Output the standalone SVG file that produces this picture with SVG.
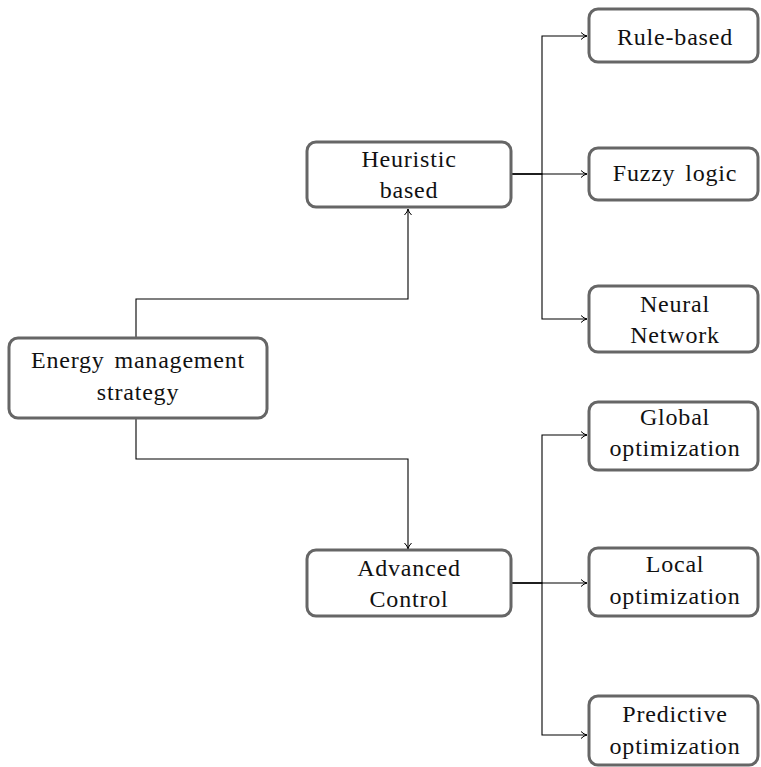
<svg xmlns="http://www.w3.org/2000/svg" width="761" height="767" viewBox="0 0 761 767">
<style>
.box{fill:#fff;stroke:#666;stroke-width:3}
.t{font-family:"Liberation Serif","Times New Roman",serif;font-size:24px;fill:#111;text-anchor:middle;letter-spacing:0.8px;word-spacing:3px}
.c{fill:none;stroke:#000;stroke-width:1.1}
</style>
<defs>
<marker id="arr" viewBox="0 0 10 10" refX="9" refY="5" markerWidth="10" markerHeight="10" markerUnits="userSpaceOnUse" orient="auto">
<path d="M3,1.5 Q6,4.5 9,5 Q6,5.5 3,8.5" fill="none" stroke="#000" stroke-width="1"/>
</marker>
</defs>
<g id="connectors">
<path class="c" d="M136,337 V299 H408 V209" marker-end="url(#arr)"/>
<path class="c" d="M136,419 V459 H408 V549" marker-end="url(#arr)"/>
<path class="c" d="M512,174 H542 V36 H587" marker-end="url(#arr)"/>
<path class="c" d="M512,174 H587" marker-end="url(#arr)"/>
<path class="c" d="M512,174 H542 V319 H587" marker-end="url(#arr)"/>
<path class="c" d="M512,583 H542 V435 H587" marker-end="url(#arr)"/>
<path class="c" d="M512,583 H587" marker-end="url(#arr)"/>
<path class="c" d="M512,583 H542 V735 H587" marker-end="url(#arr)"/>
</g>
<g id="root">
<rect class="box" x="9" y="338" width="258" height="80" rx="9"/>
<text class="t" x="138" y="368">Energy management</text>
<text class="t" x="138" y="400">strategy</text>
</g>
<g id="heuristic">
<rect class="box" x="307" y="142" width="204" height="65" rx="9"/>
<text class="t" x="409" y="167">Heuristic</text>
<text class="t" x="409" y="198">based</text>
</g>
<g id="advanced">
<rect class="box" x="307" y="550" width="204" height="66" rx="9"/>
<text class="t" x="409" y="576">Advanced</text>
<text class="t" x="409" y="607">Control</text>
</g>
<g id="rule">
<rect class="box" x="589" y="9" width="169" height="53" rx="9"/>
<text class="t" x="675" y="45">Rule-based</text>
</g>
<g id="fuzzy">
<rect class="box" x="589" y="148" width="169" height="52" rx="9"/>
<text class="t" x="675" y="181">Fuzzy logic</text>
</g>
<g id="neural">
<rect class="box" x="589" y="286" width="169" height="66" rx="9"/>
<text class="t" x="675" y="312">Neural</text>
<text class="t" x="675" y="343">Network</text>
</g>
<g id="global">
<rect class="box" x="589" y="402" width="169" height="68" rx="9"/>
<text class="t" x="675" y="425">Global</text>
<text class="t" x="675" y="456">optimization</text>
</g>
<g id="local">
<rect class="box" x="589" y="548" width="169" height="68" rx="9"/>
<text class="t" x="675" y="572">Local</text>
<text class="t" x="675" y="604">optimization</text>
</g>
<g id="predictive">
<rect class="box" x="589" y="696" width="169" height="69" rx="9"/>
<text class="t" x="675" y="722">Predictive</text>
<text class="t" x="675" y="754">optimization</text>
</g>
</svg>
